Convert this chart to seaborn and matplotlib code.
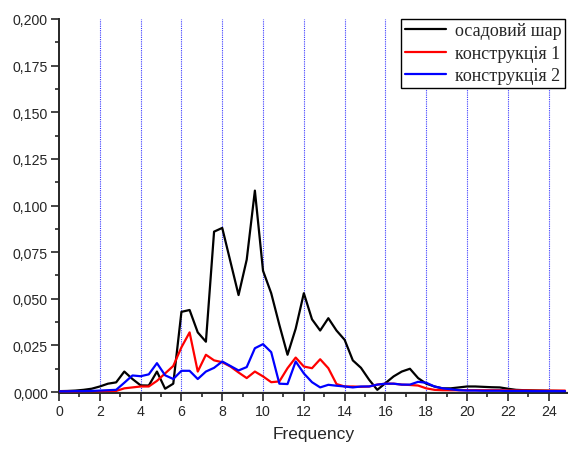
import numpy as np
import pandas as pd
import matplotlib.pyplot as plt
import matplotlib.ticker as mticker
import seaborn as sns

# frequency grid (step 0.4)
freq = [round(0.4 * i, 1) for i in range(63)]

osad = [0.0005, 0.0006, 0.0008, 0.0012, 0.0018, 0.003, 0.0045, 0.0052, 0.011, 0.007,
        0.0036, 0.0035, 0.011, 0.0018, 0.0045, 0.043, 0.044, 0.032, 0.027, 0.086,
        0.088, 0.070, 0.052, 0.071, 0.108, 0.065, 0.053, 0.036, 0.020, 0.034,
        0.053, 0.039, 0.033, 0.0396, 0.033, 0.028, 0.017, 0.013, 0.0066, 0.0012,
        0.0048, 0.0084, 0.011, 0.0125, 0.0075, 0.0045, 0.003, 0.002, 0.002, 0.0025,
        0.003, 0.003, 0.0028, 0.0026, 0.0025, 0.0018, 0.0012, 0.001, 0.0009, 0.0008,
        0.0007, 0.0006, 0.0005]
kon1 = [0.0004, 0.0004, 0.0004, 0.0005, 0.0005, 0.0005, 0.0006, 0.0006, 0.002, 0.0025,
        0.003, 0.003, 0.006, 0.010, 0.014, 0.024, 0.032, 0.011, 0.020, 0.017,
        0.016, 0.0137, 0.0105, 0.0075, 0.011, 0.0084, 0.0053, 0.0057, 0.0128, 0.0185,
        0.0137, 0.0128, 0.0176, 0.0128, 0.0043, 0.003, 0.003, 0.0028, 0.003, 0.004,
        0.0045, 0.0045, 0.004, 0.0038, 0.0035, 0.002, 0.0012, 0.001, 0.001, 0.001,
        0.001, 0.001, 0.001, 0.001, 0.001, 0.0009, 0.0009, 0.0009, 0.0008, 0.0008,
        0.0008, 0.0008, 0.0008]
kon2 = [0.0004, 0.0004, 0.0005, 0.0005, 0.0006, 0.0008, 0.001, 0.0012, 0.005, 0.0089,
        0.0085, 0.0095, 0.0155, 0.009, 0.007, 0.0114, 0.0114, 0.007, 0.011, 0.013,
        0.0164, 0.014, 0.0116, 0.0134, 0.0235, 0.0257, 0.0214, 0.0045, 0.0043, 0.0164,
        0.010, 0.0053, 0.0025, 0.0039, 0.0034, 0.003, 0.0025, 0.003, 0.003, 0.004,
        0.0045, 0.0045, 0.004, 0.004, 0.0055, 0.005, 0.003, 0.002, 0.0015, 0.001,
        0.0008, 0.0008, 0.0007, 0.0007, 0.0007, 0.0006, 0.0006, 0.0006, 0.0005, 0.0005,
        0.0005, 0.0005, 0.0005]

names = ['осадовий шар', 'конструкція 1', 'конструкція 2']
colors = ['black', 'red', 'blue']

df = pd.DataFrame({'freq': freq * 3,
                   'val': osad + kon1 + kon2,
                   'series': [names[0]] * 63 + [names[1]] * 63 + [names[2]] * 63})

sns.set_style('ticks')
plt.rcParams['font.family'] = ['Liberation Sans', 'DejaVu Sans']

fig = plt.figure(figsize=(5.68, 4.52), dpi=100)
ax = fig.add_axes([0.1039, 0.1283, 0.898, 0.8275])

ax.axhline(0, color='#999999', lw=1, zorder=1)
for xv in range(2, 25, 2):
    ax.axvline(xv, color='#3a3aff', lw=0.8, ls=(0, (1, 1)), zorder=1)

sns.lineplot(data=df, x='freq', y='val', hue='series', palette=colors,
             linewidth=1.6, ax=ax, zorder=3)

ax.set_xlim(0, 25)
ax.set_ylim(-0.0005, 0.2)
ax.xaxis.set_major_locator(mticker.MultipleLocator(2))
ax.xaxis.set_minor_locator(mticker.MultipleLocator(1))
ax.yaxis.set_major_locator(mticker.MultipleLocator(0.025))
ax.yaxis.set_minor_locator(mticker.MultipleLocator(0.0125))
ax.yaxis.set_major_formatter(mticker.FuncFormatter(lambda v, p: f'{v:.3f}'.replace('.', ',')))
ax.tick_params(which='major', direction='out', length=5.5, width=1.2, labelsize=10.2, pad=2.5)
ax.tick_params(which='minor', direction='out', length=3, width=1.2)

for s in ['top', 'right']:
    ax.spines[s].set_visible(False)
for s in ['left', 'bottom']:
    ax.spines[s].set_linewidth(1.4)

ax.set_xlabel('Frequency', fontsize=12.5, labelpad=6)
ax.set_ylabel('')

leg = ax.legend(loc='upper right', bbox_to_anchor=(1.0, 1.01), frameon=True, fancybox=False,
                edgecolor='black', framealpha=1, handlelength=2.3, borderpad=0.2,
                labelspacing=0.3, handletextpad=0.5, borderaxespad=0.2,
                prop={'family': 'Liberation Serif', 'size': 13})
leg.get_frame().set_linewidth(1.0)

fig.savefig('out.png', dpi=100)
